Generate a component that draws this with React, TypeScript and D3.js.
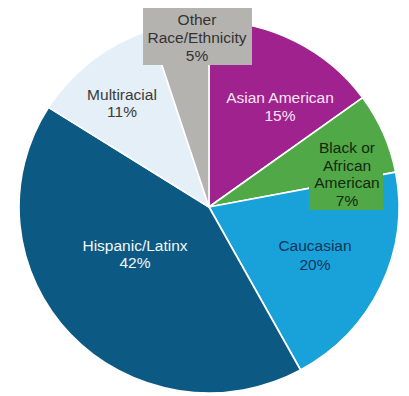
import React from "react";
import * as d3 from "d3";

const categories = ["Asian American", "Black or African American", "Caucasian", "Hispanic/Latinx", "Multiracial", "Other Race/Ethnicity"];
const values = [15, 7, 20, 42, 11, 5];
const sliceColors = ["#A0228F", "#50A846", "#18A2D9", "#0C5A83", "#E4EFF8", "#B5B3B0"];
const labelColors = ["#F6E6F3", "#14280F", "#13355A", "#F2F6FA", "#3A3A3A", "#333333"];
const labelLines = [
  ["Asian American", "15%"],
  ["Black or", "African", "American", "7%"],
  ["Caucasian", "20%"],
  ["Hispanic/Latinx", "42%"],
  ["Multiracial", "11%"],
  ["Other", "Race/Ethnicity", "5%"],
];

// layout (label anchors: center x, first baseline y)
const W = 409, H = 396;
const CX = 209, CY = 207, RX = 190, RY = 186;
const labelAnchor: [number, number][] = [
  [280, 103],
  [347, 153],
  [315, 251],
  [135, 251],
  [122, 100],
  [197, 25],
];
const lineGap = [18, 17.5, 19, 17, 17, 18];
const labelBoxes: ({ x0: number; y0: number; x1: number; y1: number } | null)[] = [
  null,
  { x0: 309, y0: 137, x1: 383, y1: 210 },
  null,
  null,
  null,
  { x0: 143, y0: 8, x1: 252, y1: 65 },
];

export default function App() {
  const pie = d3.pie<number>().sort(null).startAngle(0).endAngle(2 * Math.PI)(values);
  const arc = d3.arc<d3.PieArcDatum<number>>().innerRadius(0).outerRadius(RY);
  return (
    <svg width={W} height={H} style={{ position: "absolute", left: 0, top: 0, background: "#fff" }}
      fontFamily="'Liberation Sans', Arial, sans-serif">
      <g transform={`translate(${CX},${CY}) scale(${RX / RY},1)`}>
        {pie.map((p, i) => (
          <path key={categories[i]} d={arc(p) || ""} fill={sliceColors[i]} stroke="#fff" strokeWidth={1.6} strokeLinejoin="round" />
        ))}
      </g>
      {labelBoxes.map((b, i) =>
        b ? <rect key={"b" + i} x={b.x0} y={b.y0} width={b.x1 - b.x0} height={b.y1 - b.y0} fill={sliceColors[i]} /> : null
      )}
      {labelLines.map((lines, i) => (
        <text key={"t" + i} x={labelAnchor[i][0]} y={labelAnchor[i][1]} textAnchor="middle" fontSize={15.5} fill={labelColors[i]}>
          {lines.map((l, j) => (
            <tspan key={j} x={labelAnchor[i][0]} dy={j === 0 ? 0 : lineGap[i]}>{l}</tspan>
          ))}
        </text>
      ))}
    </svg>
  );
}
